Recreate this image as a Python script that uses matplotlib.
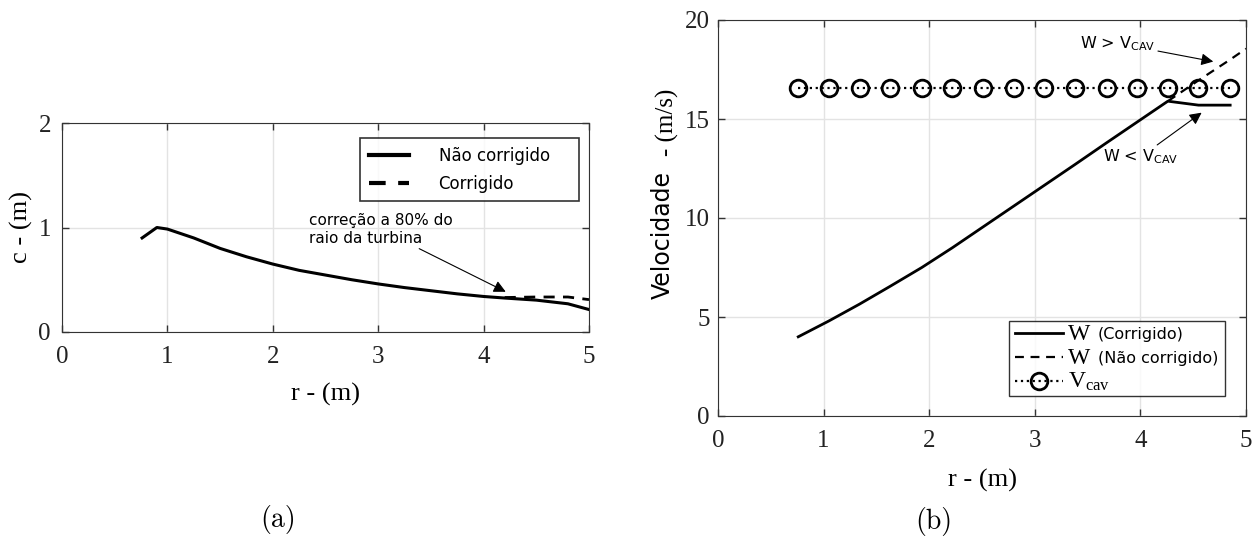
import matplotlib
matplotlib.use("Agg")
import matplotlib.pyplot as plt

# ============================================================
# DADOS
# ============================================================

# (a) corda c ao longo do raio
r_c = [0.76, 0.9, 1.0, 1.25, 1.5, 1.75, 2.0, 2.25, 2.5, 2.75, 3.0, 3.25, 3.5, 3.75, 4.0, 4.2, 4.5, 4.8, 5.0]
c_nao_corr = [0.90, 1.0, 0.985, 0.90, 0.80, 0.72, 0.65, 0.59, 0.545, 0.50, 0.46, 0.425, 0.395, 0.365, 0.34, 0.325, 0.305, 0.27, 0.215]
r_c_corr = [4.2, 4.5, 4.8, 5.0]
c_corr = [0.33, 0.335, 0.335, 0.31]

# (b) velocidades
r_w = [0.76, 1.05, 1.34, 1.63, 1.93, 2.22, 2.51, 2.80, 3.09, 3.38, 3.68, 3.97, 4.26, 4.55, 4.85]
w_corr = [4.0, 4.8, 5.65, 6.55, 7.5, 8.5, 9.55, 10.6, 11.65, 12.7, 13.8, 14.85, 15.9, 15.7, 15.7]
r_w_nc = [4.26, 4.55, 4.85, 5.0]
w_nao_corr = [15.9, 16.95, 18.0, 18.55]
v_cav = [16.55] * len(r_w)

# ============================================================
# ESTILO
# ============================================================
plt.rcParams["font.family"] = ["DejaVu Sans"]
plt.rcParams["mathtext.fontset"] = "custom"
plt.rcParams["mathtext.rm"] = "Liberation Serif"
plt.rcParams["mathtext.it"] = "Liberation Serif:italic"
plt.rcParams["mathtext.sf"] = "DejaVu Sans"

serif = "Liberation Serif"
W, H = 1259, 538
fig = plt.figure(figsize=(12.59, 5.38), dpi=100)


def estilo_matlab(ax, ypad):
    ax.grid(True, color="#e3e3e3", linewidth=1)
    ax.set_axisbelow(True)
    ax.tick_params(direction="in", top=True, right=True, length=5, width=1, color="#333333",
                   labelsize=18, labelfontfamily=serif, labelcolor="#222222")
    ax.tick_params(axis="x", pad=10)
    ax.tick_params(axis="y", pad=ypad)
    for s in ax.spines.values():
        s.set_color("#333333")


# ============================================================
# (a)
# ============================================================
ax1 = fig.add_axes([62 / W, 1 - 332 / H, 527 / W, 209 / H])
ax1.plot(r_c, c_nao_corr, color="black", linewidth=2.2, label="Não corrigido    ")
ax1.plot(r_c_corr, c_corr, color="black", linewidth=2, linestyle="--", dashes=(4, 3), label="Corrigido")
ax1.set_xlim(0, 5)
ax1.set_ylim(0, 2)
ax1.set_xticks([0, 1, 2, 3, 4, 5])
ax1.set_yticks([0, 1, 2])
estilo_matlab(ax1, 8)
ax1.set_xlabel("r - (m)", family=serif, fontsize=19, labelpad=11)
fig.text(21 / W, 1 - 227 / H, "c - (m)", family=serif, fontsize=19, rotation=90,
         ha="center", va="center")
leg1 = ax1.legend(loc="upper right", bbox_to_anchor=(0.981, 0.927), fontsize=12,
                  handlelength=2.4, handletextpad=1.8, labelspacing=0.6,
                  fancybox=False, edgecolor="black", borderpad=0.5, borderaxespad=0)
leg1.get_frame().set_linewidth(1.2)
for ln in leg1.get_lines():
    ln.set_linewidth(3)
ax1.annotate("correção a 80% do\nraio da turbina", xy=(4.21, 0.385), xytext=(2.34, 1.14),
             fontsize=11, va="top", ha="left", linespacing=1.25,
             arrowprops=dict(arrowstyle="-|>", color="black", lw=0.8, shrinkA=0, shrinkB=0,
                             mutation_scale=18),
             annotation_clip=False)
fig.text(278 / W, 1 - 520 / H, "(a)", family="cmr10", fontsize=20, ha="center", va="center")

# ============================================================
# (b)
# ============================================================
ax2 = fig.add_axes([718 / W, 1 - 416 / H, 528 / W, 396 / H])
ax2.plot(r_w, w_corr, color="black", linewidth=2, label="(Corrigido)")
ax2.plot(r_w_nc, w_nao_corr, color="black", linewidth=1.6, linestyle="--", dashes=(4, 3),
         label="(Não corrigido)")
ax2.plot(r_w, v_cav, color="black", linewidth=1.6, linestyle=":", marker="o", markersize=12,
         markerfacecolor="none", markeredgewidth=2, label=" ")
ax2.set_xlim(0, 5)
ax2.set_ylim(0, 20)
ax2.set_xticks([0, 1, 2, 3, 4, 5])
ax2.set_yticks([0, 5, 10, 15, 20])
estilo_matlab(ax2, 6)
ax2.set_xlabel("r - (m)", family=serif, fontsize=19, labelpad=12)
fig.text(663 / W, 1 - 235 / H, "Velocidade", fontsize=17, rotation=90,
         ha="center", va="center")
fig.text(667 / W, 1 - 122 / H, "- (m/s)", family=serif, fontsize=18, rotation=90,
         ha="center", va="center")
leg2 = ax2.legend(loc="lower right", bbox_to_anchor=(0.96, 0.0505), fontsize=11.5,
                  handlelength=3.0, handletextpad=2.2, labelspacing=0.55,
                  fancybox=False, edgecolor="black", borderpad=0.4, borderaxespad=0)
leg2.get_frame().set_linewidth(1.0)

ax2.annotate(r"W > V$_{\mathsf{CAV}}$", xy=(4.69, 17.9), xytext=(4.14, 18.82),
             fontsize=11.5, va="center", ha="right",
             arrowprops=dict(arrowstyle="-|>", color="black", lw=0.8, shrinkA=0, shrinkB=0,
                             mutation_scale=18))
ax2.annotate(r"W < V$_{\mathsf{CAV}}$", xy=(4.58, 15.32), xytext=(4.36, 13.55),
             fontsize=11.5, va="top", ha="right",
             arrowprops=dict(arrowstyle="-|>", color="black", lw=0.8, shrinkA=0, shrinkB=0,
                             mutation_scale=18))
fig.text(934 / W, 1 - 521 / H, "(b)", family="cmr10", fontsize=20, ha="center", va="center")

# "W" e "V_cav" em serifa, entre a linha e o texto da legenda
fig.canvas.draw()
simbolos = ["W", "W", r"$\mathrm{V_{cav}}$"]
for txt, s in zip(leg2.get_texts(), simbolos):
    bb = txt.get_window_extent()
    fig.text((bb.x0 - 30) / W, (bb.y0 + bb.y1) / 2 / H, s,
             family=serif, fontsize=17, ha="left", va="center")

plt.savefig("out.png", dpi=100)
